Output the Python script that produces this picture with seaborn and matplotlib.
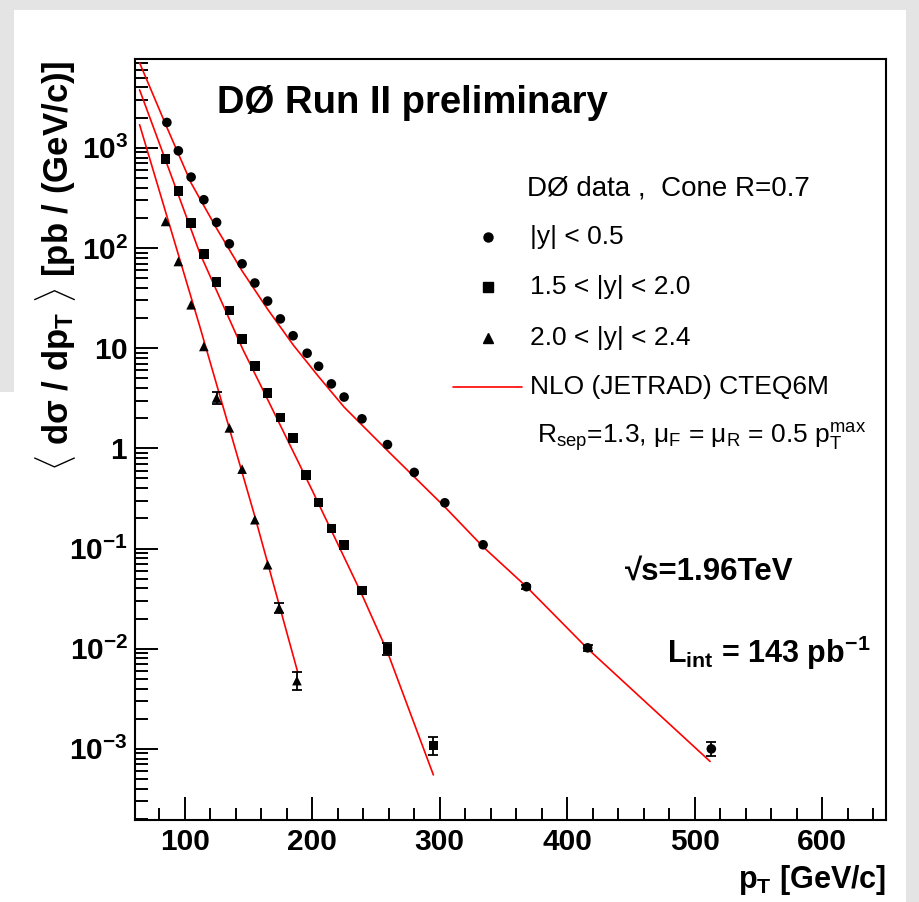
import numpy as np
import pandas as pd
import matplotlib
matplotlib.use("Agg")
import matplotlib.pyplot as plt
import seaborn as sns
from matplotlib.lines import Line2D
from matplotlib.patches import Rectangle
from matplotlib.ticker import FixedLocator, LogLocator, MultipleLocator, NullFormatter

# data points (pT in GeV/c, cross section in pb/(GeV/c))
pt_central = [86, 95, 105, 115, 125, 135, 145, 155, 165, 175, 185, 196, 205, 215,
              225, 239, 259, 280, 304, 334, 368, 416, 513]
xs_central = [1790, 933, 510, 303, 180, 110, 69.5, 44.7, 29.5, 19.6, 13.3, 8.9, 6.6, 4.4,
              3.25, 1.97, 1.09, 0.575, 0.286, 0.109, 0.0416, 0.0102, 0.00100]
err_central = [0] * 20 + [0.02, 0.03, 0.07]  # error bar half length, in decades

pt_forward = [85, 95, 105, 115, 125, 135, 145, 155, 165, 175, 185, 195, 205, 215,
              225, 239, 259, 295]
xs_forward = [771, 372, 177, 87.5, 45.7, 23.8, 12.3, 6.67, 3.56, 2.04, 1.27, 0.541, 0.288,
              0.158, 0.108, 0.0382, 0.0099, 0.00108]
err_forward = [0] * 16 + [0.06, 0.09]

pt_vfwd = [85, 95, 105, 115, 125, 135, 145, 155, 165, 174, 188]
xs_vfwd = [184, 73.3, 27.1, 10.4, 3.18, 1.6, 0.62, 0.194, 0.0689, 0.0255, 0.0048]
err_vfwd = [0, 0, 0, 0, 0.06, 0, 0, 0, 0, 0.05, 0.09]

# NLO (JETRAD) curves
nlo_central_pt = [64.6, 86, 105, 125, 145, 165, 185, 205, 225, 259, 304, 334, 368, 416, 512]
nlo_central = [7050, 1600, 445, 157, 59, 24.5, 10.8, 5.2, 2.58, 0.95, 0.26, 0.104, 0.0416,
               0.0100, 7.5e-4]
nlo_forward_pt = [64.6, 85, 111.8, 145.8, 161.3, 200, 238.4, 258.7, 295]
nlo_forward = [3790, 750, 89, 9.6, 3.84, 0.38, 0.036, 0.0095, 5.5e-4]
nlo_vfwd_pt = [64.6, 111.8, 155, 188.5]
nlo_vfwd = [1700, 16.5, 0.209, 0.0059]

regions = ["|y| < 0.5", "1.5 < |y| < 2.0", "2.0 < |y| < 2.4"]
x_ticks = [100, 200, 300, 400, 500, 600]
y_ticks = [1e-3, 1e-2, 1e-1, 1, 10, 100, 1000]
y_tick_labels = [r"$\mathbf{10^{-3}}$", r"$\mathbf{10^{-2}}$", r"$\mathbf{10^{-1}}$",
                 r"$\mathbf{1}\;\,$", r"$\mathbf{10}\;\,$",
                 r"$\mathbf{10^{2}}$", r"$\mathbf{10^{3}}$"]

data = pd.concat([
    pd.DataFrame({"pt": pt_central, "xs": xs_central, "err": err_central, "region": regions[0]}),
    pd.DataFrame({"pt": pt_forward, "xs": xs_forward, "err": err_forward, "region": regions[1]}),
    pd.DataFrame({"pt": pt_vfwd, "xs": xs_vfwd, "err": err_vfwd, "region": regions[2]}),
], ignore_index=True)
theory = pd.concat([
    pd.DataFrame({"pt": nlo_central_pt, "xs": nlo_central, "region": regions[0]}),
    pd.DataFrame({"pt": nlo_forward_pt, "xs": nlo_forward, "region": regions[1]}),
    pd.DataFrame({"pt": nlo_vfwd_pt, "xs": nlo_vfwd, "region": regions[2]}),
], ignore_index=True)

sns.set_style("white")
plt.rcParams["font.family"] = ["Liberation Sans", "DejaVu Sans"]
plt.rcParams["mathtext.fontset"] = "custom"
plt.rcParams["mathtext.rm"] = "Liberation Sans"
plt.rcParams["mathtext.bf"] = "Liberation Sans:bold"
plt.rcParams["mathtext.it"] = "Liberation Sans:italic"
plt.rcParams["text.color"] = "black"
plt.rcParams["xtick.color"] = "black"
plt.rcParams["ytick.color"] = "black"

fig = plt.figure(figsize=(9.2, 9.02), dpi=100, facecolor="#e4e4e4")
# white slide area
fig.patches.append(Rectangle((14 / 920, 0), 892 / 920, 892 / 902, transform=fig.transFigure,
                             facecolor="white", edgecolor="none", zorder=-10))
fig.patches.append(Rectangle((0, 0), 14 / 920, 510 / 902, transform=fig.transFigure,
                             facecolor="white", edgecolor="none", zorder=-10))
ax = fig.add_axes([135 / 920, 1 - 820 / 902, 751 / 920, 761 / 902])

markers = {regions[0]: "o", regions[1]: "s", regions[2]: "^"}

sns.lineplot(data=theory, x="pt", y="xs", units="region", estimator=None,
             color="#ff0000", linewidth=1.2, ax=ax, legend=False)

with_err = data[data["err"] > 0]
lo = with_err["xs"] - with_err["xs"] * 10 ** (-with_err["err"])
hi = with_err["xs"] * 10 ** with_err["err"] - with_err["xs"]
ax.errorbar(with_err["pt"], with_err["xs"], yerr=[lo, hi], fmt="none", ecolor="black",
            elinewidth=1.3, capsize=3.5, capthick=1.3, zorder=3)

sns.scatterplot(data=data, x="pt", y="xs", style="region", markers=markers, color="black",
                s=48, linewidth=0, ax=ax, legend=False, zorder=4)

ax.set_yscale("log")
ax.set_xlim(61, 650)
ax.set_ylim(1.95e-4, 7.7e3)
ax.xaxis.set_major_locator(FixedLocator(x_ticks))
ax.xaxis.set_minor_locator(MultipleLocator(20))
ax.set_xticklabels([str(v) for v in x_ticks])
ax.yaxis.set_major_locator(FixedLocator(y_ticks))
ax.set_yticklabels(y_tick_labels)
ax.yaxis.set_minor_locator(LogLocator(base=10, subs=np.arange(2, 10)))
ax.yaxis.set_minor_formatter(NullFormatter())
ax.tick_params(which="both", direction="in", bottom=True, left=True, top=False, right=False,
               color="black", labelcolor="black", width=1.4)
ax.tick_params(which="major", length=16.5, labelsize=21.5)
ax.tick_params(axis="x", which="major", pad=6)
ax.tick_params(axis="y", which="major", pad=5)
ax.tick_params(axis="y", which="minor", length=9.4)
ax.tick_params(axis="x", which="minor", length=8.6)
for lab in ax.get_xticklabels() + ax.get_yticklabels():
    lab.set_fontweight("bold")
for sp in ax.spines.values():
    sp.set_color("black")
    sp.set_linewidth(1.5)
ax.set_xlabel("")
ax.set_ylabel("")

fig.text(886 / 920, 1 - 880 / 902, r"p$_{\mathbf{T}}$ [GeV/c]", ha="right", va="center",
         fontsize=22, fontweight="bold")
fig.text(56 / 920, 1 - 266 / 902, r"$\langle$ dσ / dp$_{\mathbf{T}}$ $\rangle$ [pb / (GeV/c)]",
         rotation=90, ha="center", va="center", fontsize=25, fontweight="bold")

ax.text(0.109, 0.942, "DØ Run II preliminary", transform=ax.transAxes, ha="left", va="center",
        fontsize=27.5, fontweight="bold")

# legend
ax.text(0.522, 0.830, "DØ data ,  Cone R=0.7", transform=ax.transAxes, ha="left", va="center",
        fontsize=20)
leg_y = [0.766, 0.700, 0.633]
for reg, yy in zip(regions, leg_y):
    ax.add_line(Line2D([0.470], [yy], marker=markers[reg], color="black", markersize=6.5,
                       linestyle="none", transform=ax.transAxes))
    ax.text(0.526, yy, reg, transform=ax.transAxes, ha="left", va="center", fontsize=19)
ax.add_line(Line2D([0.423, 0.515], [0.569, 0.569], color="#ff0000", linewidth=1.2,
                   transform=ax.transAxes))
ax.text(0.526, 0.569, "NLO (JETRAD) CTEQ6M", transform=ax.transAxes, ha="left", va="center",
        fontsize=19)
ax.text(0.535, 0.503, r"R$_{\rm sep}$=1.3, μ$_{\rm F}$ = μ$_{\rm R}$ = 0.5 p$_{\rm T}^{\rm max}$",
        transform=ax.transAxes, ha="left", va="center", fontsize=19)

ax.text(0.652, 0.326, "√s=1.96TeV", transform=ax.transAxes, ha="left", va="center",
        fontsize=22.5, fontweight="bold")
ax.text(0.708, 0.219, r"L$_{\mathbf{int}}$ = 143 pb$^{\mathbf{-1}}$", transform=ax.transAxes,
        ha="left", va="center", fontsize=22, fontweight="bold")

fig.savefig("out.png", dpi=100, facecolor=fig.get_facecolor())
